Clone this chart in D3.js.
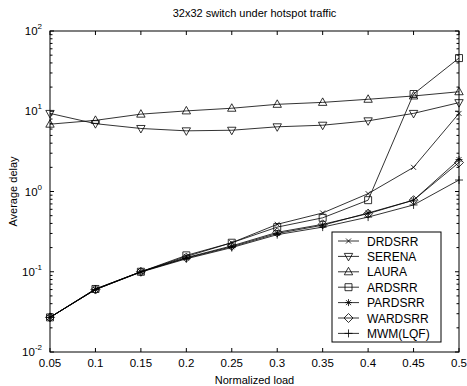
<!DOCTYPE html>
<html>
<head>
<meta charset="utf-8">
<script src="https://cdn.jsdelivr.net/npm/d3@7"></script>
<style>
  body { margin: 0; background: #fff; }
  svg text { font-family: Arial, "Liberation Sans", sans-serif; fill: #000; }
</style>
</head>
<body>
<div id="chart"></div>
<script>
// data
var loads = [0.05, 0.1, 0.15, 0.2, 0.25, 0.3, 0.35, 0.4, 0.45, 0.5];
var xTicks = ["0.05", "0.1", "0.15", "0.2", "0.25", "0.3", "0.35", "0.4", "0.45", "0.5"];
var yDecades = [-2, -1, 0, 1, 2];

var seriesNames = ["DRDSRR", "SERENA", "LAURA", "ARDSRR", "PARDSRR", "WARDSRR", "MWM(LQF)"];
var drdsrr  = [0.027, 0.061, 0.10, 0.155, 0.23, 0.39, 0.54, 0.94, 2.0, 9.4];
var serena  = [9.4, 7.0, 6.1, 5.7, 5.8, 6.4, 6.7, 7.6, 9.4, 12.8];
var laura   = [6.9, 7.7, 9.2, 10.1, 10.9, 12.2, 12.9, 14.1, 15.5, 17.5];
var ardsrr  = [0.027, 0.061, 0.10, 0.16, 0.23, 0.36, 0.47, 0.78, 16.4, 46];
var pardsrr = [0.027, 0.060, 0.10, 0.148, 0.205, 0.30, 0.38, 0.54, 0.78, 2.5];
var wardsrr = [0.027, 0.060, 0.10, 0.15, 0.21, 0.31, 0.39, 0.53, 0.78, 2.3];
var mwm     = [0.027, 0.060, 0.099, 0.145, 0.20, 0.29, 0.36, 0.48, 0.68, 1.39];
var seriesValues = [drdsrr, serena, laura, ardsrr, pardsrr, wardsrr, mwm];
var markers = ["x", "tridown", "triup", "square", "star", "diamond", "plus"];

var W = 467, H = 386;
var margin = { top: 31, right: 8, bottom: 34, left: 50 };
var width = W - margin.left - margin.right,   // 409
    height = H - margin.top - margin.bottom;  // 321

var x = d3.scaleLinear().domain([0.05, 0.5]).range([0, width]);
var y = d3.scaleLog().domain([0.01, 100]).range([height, 0]);

var svg = d3.select("#chart").append("svg")
    .attr("width", W)
    .attr("height", H);

var g = svg.append("g")
    .attr("transform", "translate(" + margin.left + "," + margin.top + ")");

// marker shapes, centred on 0,0
function markerPath(type) {
  var r = 3.5;
  switch (type) {
    case "x": return "M-2.5,-2.5L2.5,2.5M-2.5,2.5L2.5,-2.5";
    case "plus": return "M-4,0L4,0M0,-4L0,4";
    case "star": return "M-3.5,0L3.5,0M0,-3.5L0,3.5M-2.5,-2.5L2.5,2.5M-2.5,2.5L2.5,-2.5";
    case "square": return "M-3.5,-3.5H3.5V3.5H-3.5Z";
    case "diamond": return "M0,-4.5L4.5,0L0,4.5L-4.5,0Z";
    case "triup": return "M0,-4.5L4.2,3L-4.2,3Z";
    case "tridown": return "M0,4.5L4.2,-3L-4.2,-3Z";
  }
}

// lines + markers
var line = d3.line()
    .x(function(d, i) { return x(loads[i]); })
    .y(function(d) { return y(d); });

seriesValues.forEach(function(vals, s) {
  g.append("path")
    .attr("d", line(vals))
    .attr("fill", "none")
    .attr("stroke", "#000")
    .attr("stroke-width", 0.8);

  g.selectAll(".m" + s)
    .data(vals)
    .enter().append("path")
      .attr("class", "m" + s)
      .attr("transform", function(d, i) { return "translate(" + x(loads[i]) + "," + y(d) + ")"; })
      .attr("d", markerPath(markers[s]))
      .attr("fill", "none")
      .attr("stroke", "#000")
      .attr("stroke-width", 0.8);
});

// axes box
g.append("rect")
  .attr("x", 0).attr("y", 0)
  .attr("width", width).attr("height", height)
  .attr("fill", "none")
  .attr("stroke", "#000")
  .attr("stroke-width", 1);

// x ticks (inward, bottom and top)
xTicks.forEach(function(t) {
  var xx = x(+t);
  g.append("line").attr("x1", xx).attr("x2", xx).attr("y1", height).attr("y2", height - 4)
    .attr("stroke", "#000").attr("stroke-width", 1);
  g.append("line").attr("x1", xx).attr("x2", xx).attr("y1", 0).attr("y2", 4)
    .attr("stroke", "#000").attr("stroke-width", 1);
  g.append("text")
    .attr("x", xx).attr("y", height + 15)
    .attr("text-anchor", "middle")
    .style("font-size", "11.5px")
    .text(t);
});

// y ticks: major + minor log ticks on both sides
yDecades.forEach(function(e, k) {
  var v = Math.pow(10, e);
  var yy = y(v);
  g.append("line").attr("x1", 0).attr("x2", 4).attr("y1", yy).attr("y2", yy)
    .attr("stroke", "#000").attr("stroke-width", 1);
  g.append("line").attr("x1", width).attr("x2", width - 4).attr("y1", yy).attr("y2", yy)
    .attr("stroke", "#000").attr("stroke-width", 1);
  var lab = g.append("text")
    .attr("x", -8).attr("y", yy + 4)
    .attr("text-anchor", "end")
    .style("font-size", "11.5px");
  lab.append("tspan").text("10");
  lab.append("tspan").attr("dy", -6).style("font-size", "8px").text(String(e));

  if (k < yDecades.length - 1) {
    for (var m = 2; m <= 9; m++) {
      var ym = y(m * v);
      g.append("line").attr("x1", 0).attr("x2", 2.5).attr("y1", ym).attr("y2", ym)
        .attr("stroke", "#000").attr("stroke-width", 1);
      g.append("line").attr("x1", width).attr("x2", width - 2.5).attr("y1", ym).attr("y2", ym)
        .attr("stroke", "#000").attr("stroke-width", 1);
    }
  }
});

// titles
svg.append("text")
  .attr("x", margin.left + width / 2).attr("y", 17)
  .attr("text-anchor", "middle")
  .style("font-size", "11px")
  .text("32x32 switch under hotspot traffic");

svg.append("text")
  .attr("x", margin.left + width / 2).attr("y", H - 2)
  .attr("text-anchor", "middle")
  .style("font-size", "11px")
  .text("Normalized load");

svg.append("text")
  .attr("transform", "translate(17," + (margin.top + height / 2) + ") rotate(-90)")
  .attr("text-anchor", "middle")
  .style("font-size", "11px")
  .text("Average delay");

// legend
var lg = svg.append("g").attr("transform", "translate(332,232)");
lg.append("rect")
  .attr("width", 109).attr("height", 110)
  .attr("fill", "#fff")
  .attr("stroke", "#000")
  .attr("stroke-width", 1);

seriesNames.forEach(function(name, i) {
  var yy = 9 + i * 15.4;
  lg.append("line").attr("x1", 6).attr("x2", 27).attr("y1", yy).attr("y2", yy)
    .attr("stroke", "#000").attr("stroke-width", 0.8);
  lg.append("path")
    .attr("transform", "translate(16.5," + yy + ")")
    .attr("d", markerPath(markers[i]))
    .attr("fill", "none").attr("stroke", "#000").attr("stroke-width", 0.8);
  lg.append("text")
    .attr("x", 35).attr("y", yy + 4.5)
    .style("font-size", "12px")
    .text(name);
});
</script>
</body>
</html>
